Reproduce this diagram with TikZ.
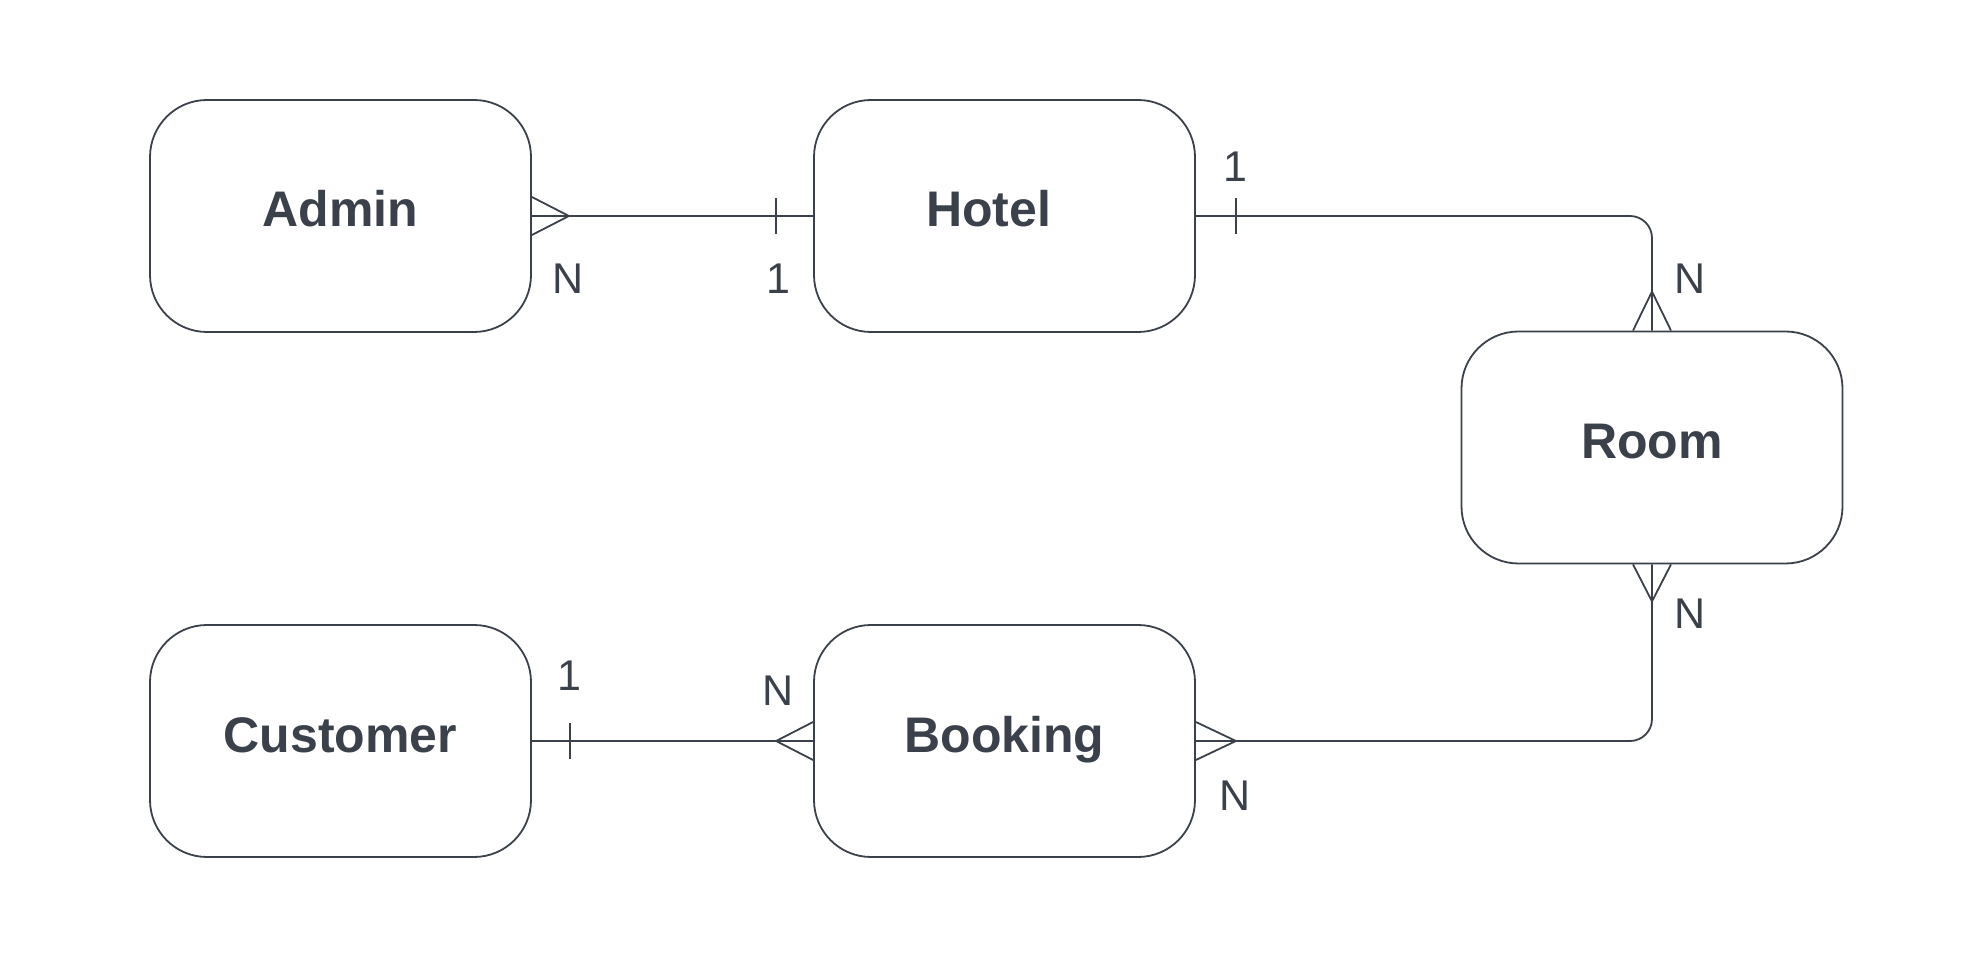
\documentclass[tikz,border=0pt]{standalone}
\usepackage{fontspec}
\setmainfont{Liberation Sans}
\definecolor{ink}{RGB}{58,65,74}
\begin{document}
\begin{tikzpicture}[x=0.5pt,y=-0.5pt,
  entity/.style={draw=ink, line width=0.9pt, rounded corners=28.5pt,
    minimum width=190.5pt, minimum height=116pt, inner sep=0pt,
    text=ink, font=\bfseries\fontsize{25}{30}\selectfont,
    text height=18pt, text depth=7pt},
  card/.style={text=ink, font=\fontsize{21.5}{26}\selectfont, inner sep=0pt},
  conn/.style={draw=ink, line width=0.9pt},
]
\useasboundingbox (0,0) rectangle (1988,962);
% entities
\node[entity] (Admin) at (340.5,216) {Admin};
\node[entity] (Hotel) at (1004.5,216) {\hspace*{-16pt}Hotel};
\node[entity] (Room) at (1652,447.5) {Room};
\node[entity] (Customer) at (340.5,741) {Customer};
\node[entity] (Booking) at (1004.5,741) {Booking};

% Admin -- Hotel
\draw[conn] (Admin.east) -- (Hotel.west);
\draw[conn] ([yshift=9.5pt]Admin.east) -- ([xshift=18.5pt]Admin.east) -- ([yshift=-9.5pt]Admin.east);
\draw[conn] ([xshift=-18.5pt,yshift=9pt]Hotel.west) -- ([xshift=-18.5pt,yshift=-9pt]Hotel.west);
\node[card] (nAdmin) at (568,279) {N};
\node[card] (oneHotelW) at (778,279) {1};

% Hotel -- Room
\draw[conn, rounded corners=11pt] (Hotel.east) -| (Room.north);
\draw[conn] ([xshift=20pt,yshift=9pt]Hotel.east) -- ([xshift=20pt,yshift=-9pt]Hotel.east);
\draw[conn] ([xshift=-9.5pt]Room.north) -- ([yshift=19.5pt]Room.north) -- ([xshift=9.5pt]Room.north);
\node[card] (oneHotelE) at (1235,167) {1};
\node[card] (nRoomTop) at (1690,279) {N};

% Room -- Booking
\draw[conn, rounded corners=11pt] (Room.south) |- (Booking.east);
\draw[conn] ([xshift=-9.5pt]Room.south) -- ([yshift=-18.5pt]Room.south) -- ([xshift=9.5pt]Room.south);
\draw[conn] ([yshift=9.5pt]Booking.east) -- ([xshift=20pt]Booking.east) -- ([yshift=-9.5pt]Booking.east);
\node[card] (nRoomBot) at (1690,614) {N};
\node[card] (nBookingE) at (1235,796) {N};

% Customer -- Booking
\draw[conn] (Customer.east) -- (Booking.west);
\draw[conn] ([xshift=19pt,yshift=9pt]Customer.east) -- ([xshift=19pt,yshift=-9pt]Customer.east);
\draw[conn] ([yshift=9.5pt]Booking.west) -- ([xshift=-18.5pt]Booking.west) -- ([yshift=-9.5pt]Booking.west);
\node[card] (oneCustomer) at (569,676) {1};
\node[card] (nBookingW) at (778,691) {N};
\end{tikzpicture}
\end{document}
